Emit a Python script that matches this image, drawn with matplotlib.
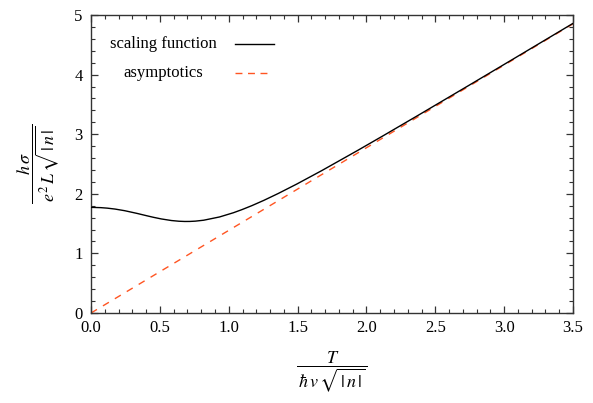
"""
Scaled conductivity vs scaled temperature, with the high-T asymptote.
"""
import numpy as np
import matplotlib
matplotlib.use('Agg')
import matplotlib.pyplot as plt
from matplotlib import ticker as mticker

plt.rcParams['font.family'] = 'serif'
plt.rcParams['font.serif'] = ['Liberation Serif', 'DejaVu Serif']
plt.rcParams['mathtext.fontset'] = 'stix'

########  data  ################################

t_scaling = [0.0, 0.0707, 0.1173, 0.1744, 0.2451, 0.3334, 0.4043, 0.4514,
             0.5097, 0.5838, 0.6388, 0.6814, 0.7173, 0.7572, 0.8182, 0.9335,
             1.0345, 1.0962, 1.1682, 1.2542, 1.3597, 1.4943, 1.6751, 1.9382,
             2.1250, 2.3774, 2.7466, 3.0715, 3.3651, 3.5474]
sigma_scaling = [1.7725, 1.7678, 1.7596, 1.7440, 1.7163, 1.6715, 1.6320, 1.6066,
                 1.5786, 1.5516, 1.5397, 1.5358, 1.5364, 1.5412, 1.5569, 1.6117,
                 1.6827, 1.7349, 1.8016, 1.8892, 2.0056, 2.1639, 2.3887, 2.7304,
                 2.9789, 3.3195, 3.8230, 4.2691, 4.6735, 4.9249]

t_asym = [0.0, 3.5]
sigma_asym = [0.0, 4.852]

series_labels = ['scaling function', 'asymptotics']

x_ticks = [0.0, 0.5, 1.0, 1.5, 2.0, 2.5, 3.0, 3.5]
y_ticks = [0, 1, 2, 3, 4, 5]

ASYM_COLOR = '#ff5522'
AX_COLOR = '#333333'

####################################

fig = plt.figure(figsize=(5.93, 4.03), dpi=100)
ax = fig.add_axes([0.1535, 0.2233, 0.8128, 0.7395])

ax.plot(t_scaling, sigma_scaling, color='k', linewidth=1.0, zorder=3)
ax.plot(t_asym, sigma_asym, color=ASYM_COLOR, linewidth=1.0,
        dashes=(5, 5), zorder=2)

ax.set_xlim(0, 3.5)
ax.set_ylim(0, 5)
ax.set_xticks(x_ticks)
ax.set_xticklabels([f'{v:.1f}' for v in x_ticks])
ax.set_yticks(y_ticks)
ax.set_yticklabels([str(v) for v in y_ticks])
ax.xaxis.set_minor_locator(mticker.MultipleLocator(0.1))
ax.yaxis.set_minor_locator(mticker.MultipleLocator(0.2))

ax.tick_params(which='both', direction='in', top=True, right=True,
               color=AX_COLOR, labelsize=12, labelcolor='k')
ax.tick_params(which='major', length=5, width=0.9)
ax.tick_params(which='minor', length=3, width=0.8)
ax.tick_params(axis='x', which='major', pad=5)
ax.tick_params(axis='y', which='major', pad=6)
for s in ax.spines.values():
    s.set_color(AX_COLOR)
    s.set_linewidth(1.0)

ax.set_xlabel(r'$\dfrac{T}{\,\hbar\, v\, \sqrt{\,|\,n\,|}\,}$', fontsize=13)
ax.xaxis.set_label_coords(0.5, -0.125)
ax.set_ylabel(r'$\dfrac{h\, \sigma}{\,e^2\, L\, \sqrt{\,|\,n\,|}\,}$', fontsize=13)
ax.yaxis.set_label_coords(-0.06, 0.5)

# legend, Mathematica style: centred text, key on the right
for i, (lab, col, dsh) in enumerate(zip(series_labels, ['k', ASYM_COLOR],
                                        [(None, None), (5, 4)])):
    yy = 0.902 - i * 0.097
    ax.text(0.150, yy, lab, transform=ax.transAxes, ha='center',
            va='center', fontsize=12)
    key, = ax.plot([0.299, 0.380 if i == 0 else 0.367], [yy, yy],
                   transform=ax.transAxes, color=col, linewidth=1.0)
    if i == 1:
        key.set_dashes(dsh)

fig.savefig('out.png', dpi=100)
